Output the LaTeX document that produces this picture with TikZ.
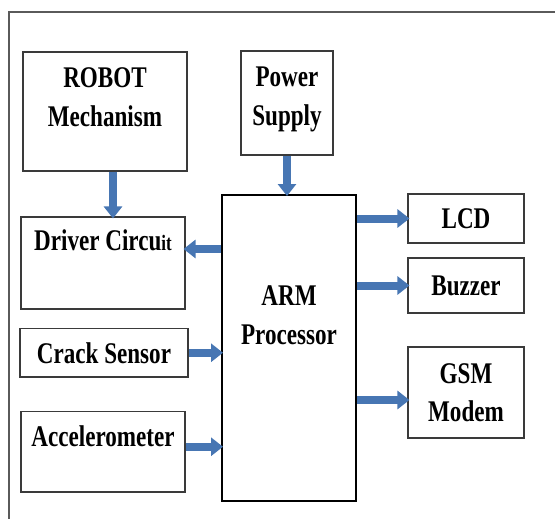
\documentclass[tikz,border=0pt]{standalone}
\usepackage{fontspec}
\setmainfont[FakeStretch=0.77]{Liberation Serif}
\usetikzlibrary{arrows.meta, positioning}
\definecolor{arrowblue}{HTML}{4776B3}
\definecolor{boxgray}{HTML}{3A3A3A}
\definecolor{framegray}{HTML}{5A5A5A}
\newcommand{\padbelow}[1]{\rule[-#1]{0pt}{#1}}

\begin{document}
\begin{tikzpicture}[
    x=1pt, y=-1pt,
    box/.style={draw=boxgray, line width=1.1pt, inner sep=0pt, align=center, font=\fontsize{30}{38.5}\selectfont\bfseries},
    arrow/.style={-{Triangle[width=18pt, length=12pt]}, arrowblue, line width=8pt, shorten >=-2pt},
]
    \useasboundingbox (0,0) rectangle (555,519);
    \draw[framegray, line width=1.5pt] (9,519) -- (9,12) -- (555,12);

    % Inputs
    \node[box, minimum width=164pt, minimum height=119pt] (robot) at (105, 111.5) {ROBOT\\Mechanism\padbelow{29pt}};
    \node[box, minimum width=92pt, minimum height=104pt] (power) at (287, 103) {Power\\Supply\padbelow{14pt}};
    \node[box, minimum width=164pt, minimum height=92pt] (driver) at (103, 263) {Driver Circu{\fontsize{22}{22}\selectfont it}\padbelow{45pt}};
    \node[box, minimum width=168pt, minimum height=48.5pt] (crack) at (104, 352.75) {Crack Sensor};
    \node[box, minimum width=164pt, minimum height=80.5pt] (accel) at (103, 451.75) {Accelerometer\padbelow{32pt}};

    % Processor
    \node[box, draw=black, line width=2pt, minimum width=134pt, minimum height=306pt] (arm) at (289, 348) {ARM\\Processor\padbelow{66pt}};

    % Outputs
    \node[box, minimum width=116pt, minimum height=49pt] (lcd) at (466, 218.5) {LCD};
    \node[box, minimum width=116pt, minimum height=55pt] (buzzer) at (466, 285.5) {Buzzer};
    \node[box, minimum width=116pt, minimum height=91pt] (gsm) at (466, 392.5) {GSM\\Modem};

    % Arrows
    \coordinate (rlink) at ([xshift=8pt]robot.south);
    \coordinate (dlink) at ([yshift=14pt]driver.east);
    \coordinate (alink) at ([yshift=5pt]accel.east);
    \coordinate (glink) at ([yshift=-7.5pt]gsm.west);
    \draw[arrow] (rlink) -- (rlink |- driver.north);
    \draw[arrow] (power.south) -- (power.south |- arm.north);
    \draw[arrow] (dlink -| arm.west) -- (dlink);
    \draw[arrow] (crack.east) -- (crack.east -| arm.west);
    \draw[arrow] (alink) -- (alink -| arm.west);
    \draw[arrow] (arm.east |- lcd.west) -- (lcd.west);
    \draw[arrow] (arm.east |- buzzer.west) -- (buzzer.west);
    \draw[arrow] (arm.east |- glink) -- (glink);

\end{tikzpicture}
\end{document}
